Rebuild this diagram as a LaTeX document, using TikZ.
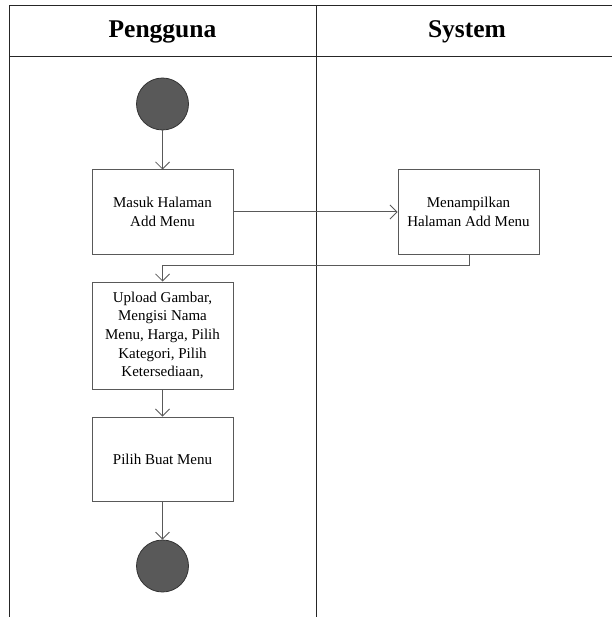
\documentclass[tikz,border=0pt]{standalone}
\usepackage{fontspec}
\setmainfont{Liberation Serif}
\usetikzlibrary{arrows.meta}
\begin{document}
\begin{tikzpicture}[x=1pt,y=-1pt,
  lane/.style={draw=black!85,line width=1pt},
  act/.style={draw=black!65,line width=1pt,fill=white,minimum width=141pt,align=center,font=\fontsize{15}{18.7}\selectfont,inner sep=2pt},
  dot/.style={circle,draw=black!80,fill=black!65,minimum size=52pt,inner sep=0pt,line width=0.8pt},
  flow/.style={draw=black!65,line width=1pt,-{Straight Barb[length=7pt,width=14pt,line width=0.8pt]}},
  head/.style={font=\fontsize{25.5}{30}\selectfont\bfseries}]
\useasboundingbox (0,0) rectangle (611,617);
% swimlane frame
\draw[lane] (9,617) -- (9,6) -- (612,6);
\draw[lane] (9,57) -- (612,57);
\draw[lane] (316,6) -- (316,617);
\node[head] (h1) at (162.5,32) {Pengguna};
\node[head] (h2) at (467,32) {System};
% nodes
\node[dot] (start) at (162.5,104) {};
\node[act,minimum height=84pt] (a1) at (162.5,212) {Masuk Halaman\\Add Menu};
\node[act,minimum height=84pt] (a2) at (468.5,212) {Menampilkan\\Halaman Add Menu};
\node[act,minimum height=107pt] (a3) at (162.5,335.5) {Upload Gambar,\\Mengisi Nama\\Menu, Harga, Pilih\\Kategori, Pilih\\Ketersediaan,};
\node[act,minimum height=84pt] (a4) at (162.5,459) {Pilih Buat Menu};
\node[dot] (end) at (162.5,566) {};
\coordinate (c1) at (469,265);
\coordinate (c2) at (162.5,265);
% connectors
\draw[flow] (start) -- (a1);
\draw[flow] (a1) -- (a2);
\draw[flow] (a2.south -| c1) -- (c1) -- (c2) -- (a3.north);
\draw[flow] (a3) -- (a4);
\draw[flow] (a4) -- (end);
\end{tikzpicture}
\end{document}
